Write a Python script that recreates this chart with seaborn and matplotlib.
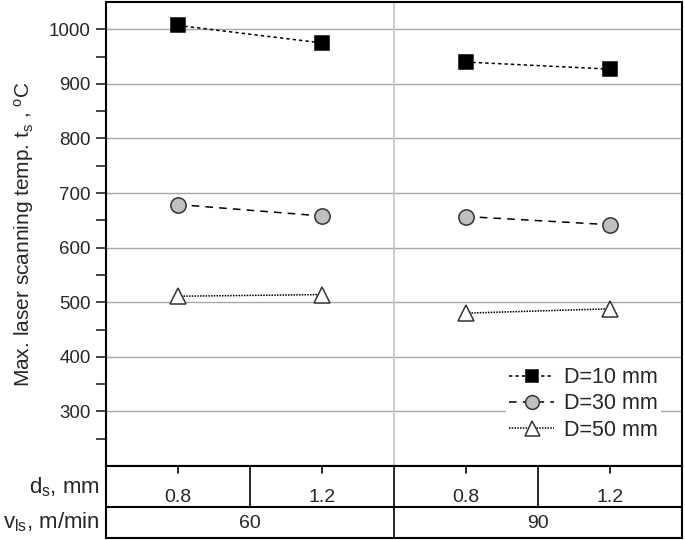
import numpy as np
import pandas as pd
import seaborn as sns
import matplotlib.pyplot as plt
from matplotlib.lines import Line2D

# values
ds_labels = ['0.8', '1.2', '0.8', '1.2']
vls_labels = ['60', '90']
x_pos = [0.5, 1.5, 2.5, 3.5]
groups = [60, 60, 90, 90]
temp_d10 = [1007, 975, 940, 927]
temp_d30 = [679, 658, 657, 642]
temp_d50 = [511, 514, 480, 488]
series_names = ['D=10 mm', 'D=30 mm', 'D=50 mm']

rows = []
for name, vals in zip(series_names, [temp_d10, temp_d30, temp_d50]):
    for x, g, v in zip(x_pos, groups, vals):
        rows.append({'x': x, 'v_ls': g, 'D': name, 'temp': v})
data = pd.DataFrame(rows)

sns.set_style('ticks')
plt.rcParams['font.family'] = ['Liberation Sans', 'DejaVu Sans']
plt.rcParams['mathtext.fontset'] = 'custom'
plt.rcParams['mathtext.rm'] = 'Liberation Sans'
plt.rcParams['mathtext.it'] = 'Liberation Sans'

styles = {
    'D=10 mm': dict(marker='s', mfc='black', mec='black', ls=(0, (2.2, 2.0)), ms=10),
    'D=30 mm': dict(marker='o', mfc='#c0c0c0', mec='#333333', ls=(0, (5, 4)), ms=11),
    'D=50 mm': dict(marker='^', mfc='white', mec='#333333', ls=(0, (1, 0.8)), ms=12),
}

fig = plt.figure(figsize=(6.85, 5.4), dpi=100)
ax = fig.add_axes([106 / 685, 1 - 466 / 540, 576 / 685, 464 / 540])

for name in series_names:
    st = styles[name]
    for g in [60, 90]:
        sub = data[(data['D'] == name) & (data['v_ls'] == g)]
        sns.lineplot(data=sub, x='x', y='temp', ax=ax, color='black', lw=1.1,
                     linestyle=st['ls'], marker=st['marker'], markersize=st['ms'],
                     markerfacecolor=st['mfc'], markeredgecolor=st['mec'],
                     markeredgewidth=1.1, estimator=None, legend=False, zorder=3)

ax.set_xlim(0, 4)
ax.set_ylim(200, 1050)
ax.set_yticks(np.arange(300, 1001, 100))
ax.set_yticks(np.arange(250, 1050, 100), minor=True)
ax.tick_params(axis='y', which='major', length=7, width=1.2, labelsize=13.5, direction='out', pad=4)
ax.tick_params(axis='y', which='minor', length=7, width=1.2, direction='out')
ax.set_xticks([])
ax.set_xlabel('')
ax.set_ylabel('Max. laser scanning temp. t$_\\mathregular{s}$ , $^\\mathregular{o}$C', fontsize=15, labelpad=9)
ax.yaxis.grid(True, color='#a8a8a8', lw=1)
ax.axvline(2, color='#c4c4c4', lw=1.2)
for sp in ax.spines.values():
    sp.set_linewidth(1.5)
    sp.set_color('black')

handles = []
for name in series_names:
    st = styles[name]
    handles.append(Line2D([], [], color='black', lw=1.1, linestyle=st['ls'], marker=st['marker'],
                          markersize=st['ms'] * 0.9, markerfacecolor=st['mfc'],
                          markeredgecolor=st['mec'], markeredgewidth=1.1))
leg = ax.legend(handles, series_names, loc='lower right', bbox_to_anchor=(0.982, 0.024),
                frameon=True, framealpha=1, edgecolor='none', fontsize=15.5,
                handlelength=2.1, handletextpad=0.45, labelspacing=0.25, borderpad=0.15)
leg.get_frame().set_boxstyle('square', pad=0)

# category table under the plot
tab = fig.add_axes([106 / 685, 1 - 538 / 540, 576 / 685, 72 / 540])
tab.set_xlim(0, 4)
tab.set_ylim(0, 72)
tab.set_xticks([])
tab.set_yticks([])
for sp in tab.spines.values():
    sp.set_linewidth(1.5)
    sp.set_color('black')
tab.axhline(31, color='black', lw=1.5)
for xv in [1, 3]:
    tab.plot([xv, xv], [31, 72], color='black', lw=1.2)
tab.plot([2, 2], [0, 72], color='black', lw=1.2)
for xv, lab in zip(x_pos, ds_labels):
    tab.plot([xv, xv], [72, 65], color='black', lw=1.2)
    tab.text(xv, 41, lab, ha='center', va='center', fontsize=14)
for xv, lab in zip([1, 3], vls_labels):
    tab.text(xv, 14, lab, ha='center', va='center', fontsize=14)
fig.text(100 / 685, 1 - 487 / 540, 'd$_\\mathregular{s}$, mm', ha='right', va='center', fontsize=16)
fig.text(100 / 685, 1 - 522 / 540, 'v$_\\mathregular{ls}$, m/min', ha='right', va='center', fontsize=16)

fig.savefig('out.png', dpi=100)
